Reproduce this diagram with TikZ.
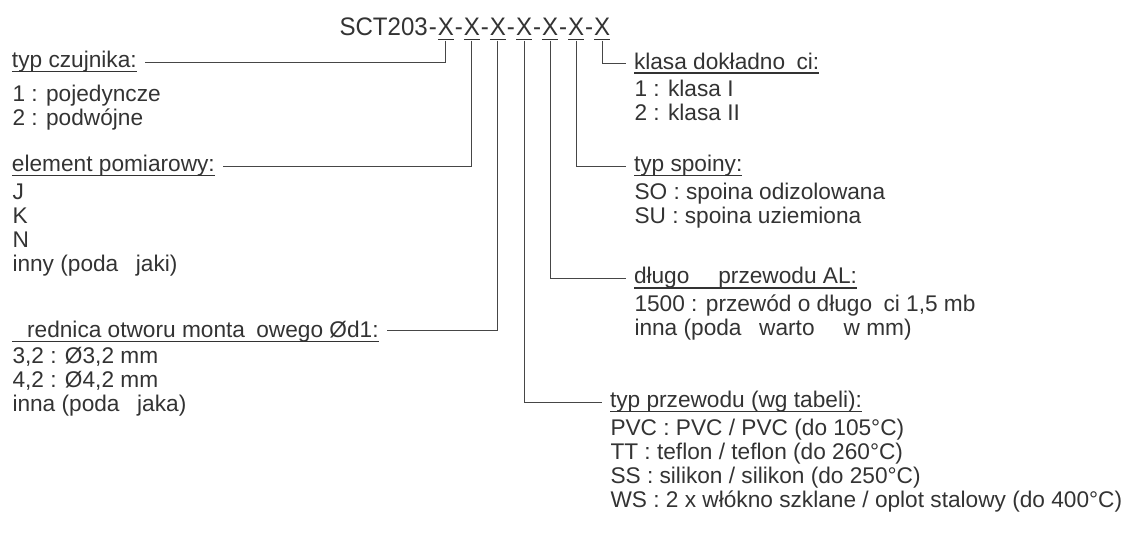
\documentclass[tikz,border=0pt]{standalone}
\usepackage{fontspec}
\setmainfont{Liberation Sans}
\newfontfamily\titlefam[FakeStretch=0.95]{Liberation Sans}
\usetikzlibrary{positioning}
\definecolor{txtgray}{RGB}{51,51,51}
\definecolor{leadgray}{RGB}{70,70,70}
\newcommand\ul[1]{\setbox0\hbox{#1}\rlap{\rule[-0.2em]{\wd0}{0.055em}}\box0}
\newcommand\bodyfont{\fontsize{17}{18}\selectfont}
\newcommand\titlefont{\titlefam\fontsize{19}{21}\selectfont}
\tikzset{every picture/.style={line width=0.75pt}}
\tikzset{
  titl/.style={font=\titlefont, inner sep=0pt, text=txtgray},
  head/.style={font=\bodyfont, inner sep=0pt, outer xsep=6pt, anchor=west, text=txtgray},
  body/.style={font=\bodyfont, inner sep=0pt, anchor=north west, align=left, text=txtgray},
  lead/.style={draw=leadgray, line width=0.75pt}
}

\begin{document}
\begin{tikzpicture}[x=0.75pt,y=0.75pt,yscale=-1,xscale=1]
\useasboundingbox (0,0) rectangle (1128,532);

%Title: SCT203-X-X-X-X-X-X-X
\node[titl, anchor=base west] (x0) at (339,35) {SCT203};
\foreach \i [count=\j from 0] in {1,...,7} {
  \node[titl, anchor=base west] (h\i) at (x\j.base east) {-};
  \node[titl, anchor=base west] (x\i) at (h\i.base east) {\ul{X}};
}

% Left headings
\node[head] (czuj) at (4,62) {\ul{typ czujnika:}};
\node[head] (elem) at (4,166) {\ul{element pomiarowy:}};
\node[head] (sred) at (4,330) {\ul{\phantom{Ś}rednica otworu monta\phantom{ż}owego Ød1:}};
% Right headings
\node[head] (klas) at (626,63) {\ul{klasa dokładno\phantom{ś}ci:}};
\node[head] (spoi) at (626,166) {\ul{typ spoiny:}};
\node[head] (dlug) at (626,278) {\ul{długo\phantom{ść} przewodu AL:}};
\node[head] (prze) at (602,402) {\ul{typ przewodu (wg tabeli):}};

% Text Node
\node[body] (czujb) at (12,85) {1 : pojedyncze\\2 : podwójne};
\node[body] (elemb) at (12,183) {J\\K\\N\\inny (poda\phantom{ć} jaki)};
\node[body] (sredb) at (12,347) {3,2 : Ø3,2 mm\\4,2 : Ø4,2 mm\\inna (poda\phantom{ć} jaka)};
\node[body] (klasb) at (634,80) {1 : klasa I\\2 : klasa II};
\node[body] (spoib) at (634,183) {SO : spoina odizolowana\\SU : spoina uziemiona};
\node[body] (dlugb) at (634,294) {1500 : przewód o długo\phantom{ś}ci 1,5 mb\\inna (poda\phantom{ć} warto\phantom{ść} w mm)};
\node[body] (przeb) at (610,419) {PVC : PVC / PVC (do 105°C)\\TT : teflon / teflon (do 260°C)\\SS : silikon / silikon (do 250°C)\\WS : 2 x włókno szklane / oplot stalowy (do 400°C)};

% Connectors
\draw[lead] (x1.south) |- (czuj.east);
\draw[lead] (x2.south) |- (elem.east);
\draw[lead] (x3.south) |- (sred.east);
\draw[lead] (x4.south) |- (prze.west);
\draw[lead] (x5.south) |- (dlug.west);
\draw[lead] (x6.south) |- (spoi.west);
\draw[lead] (x7.south) |- (klas.west);

\end{tikzpicture}
\end{document}
